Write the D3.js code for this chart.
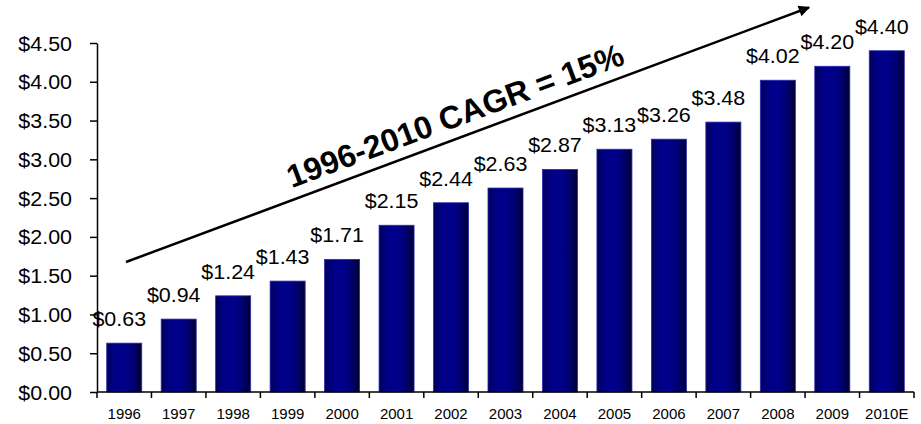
<!DOCTYPE html>
<html><head><meta charset="utf-8">
<script src="https://cdn.jsdelivr.net/npm/d3@7"></script>
<style>html,body{margin:0;padding:0;background:#fff;}svg{display:block;}</style>
</head><body>
<svg id="chart" width="921" height="424"></svg>
<script>
const categories = ["1996","1997","1998","1999","2000","2001","2002","2003","2004","2005","2006","2007","2008","2009","2010E"];
const values = [0.63,0.94,1.24,1.43,1.71,2.15,2.44,2.63,2.87,3.13,3.26,3.48,4.02,4.20,4.40];
const yTicks = [0,0.5,1,1.5,2,2.5,3,3.5,4,4.5];
const annotation = "1996-2010 CAGR = 15%";

const svg = d3.select("#chart");
const font = "'Liberation Sans', Arial, sans-serif";

const x = d3.scaleBand().domain(categories).range([97, 914]).paddingInner(0.357).paddingOuter(0.1785);
const y = d3.scaleLinear().domain([0, 4.5]).range([392, 43]);

const defs = svg.append("defs");
const g = defs.append("linearGradient").attr("id","barGrad").attr("x1","0").attr("x2","1").attr("y1","0").attr("y2","0");
[["0%","#00005a"],["22%","#000085"],["50%","#00008c"],["78%","#000070"],["100%","#00002e"]].forEach(s=>g.append("stop").attr("offset",s[0]).attr("stop-color",s[1]));
const ah = defs.append("marker").attr("id","arrow").attr("viewBox","0 0 10 10").attr("refX",9).attr("refY",5)
  .attr("markerWidth",6.5).attr("markerHeight",4.5).attr("markerUnits","strokeWidth").attr("orient","auto");
ah.append("path").attr("d","M0,0 L10,5 L0,10 z").attr("fill","#000");

// bars
svg.append("g").selectAll("rect").data(values).join("rect")
  .attr("x",(d,i)=>x(categories[i]))
  .attr("y",d=>y(d))
  .attr("width",x.bandwidth())
  .attr("height",d=>y(0)-y(d))
  .attr("fill","url(#barGrad)")
  .attr("stroke","#2b2bb0").attr("stroke-width",0.8);

// y axis
const yAxis = svg.append("g").attr("transform","translate(97,0)")
  .call(d3.axisLeft(y).tickValues(yTicks).tickSize(7).tickSizeOuter(0).tickPadding(0).tickFormat(d=>"$"+d.toFixed(2)));
yAxis.select(".domain").attr("stroke","#000").attr("stroke-width",1.5);
yAxis.selectAll(".tick line").attr("stroke","#000").attr("stroke-width",1.5);
yAxis.selectAll(".tick text")
  .attr("x",null).attr("dy",null)
  .attr("transform","translate(-25,7) scale(1.1,1)")
  .attr("font-family",font).attr("font-size",19.5).attr("fill","#000");

// x axis
const xAxis = svg.append("g").attr("transform","translate(0,392)")
  .call(d3.axisBottom(x).tickSize(0).tickPadding(0));
xAxis.select(".domain").attr("stroke","#000").attr("stroke-width",1.5).attr("d","M97,0H914");
xAxis.selectAll(".tick text").attr("y",27).attr("dy",null)
  .attr("font-family",font).attr("font-size",15).attr("fill","#000");
const bounds = [x(categories[0]) - x.step()*x.paddingOuter()].concat(categories.map(c=>x(c)+x.bandwidth()+x.step()*x.paddingInner()/2));
bounds[bounds.length-1] = 914;
xAxis.selectAll(".bound").data(bounds).join("line").attr("class","bound")
  .attr("x1",d=>d).attr("x2",d=>d).attr("y1",0).attr("y2",6).attr("stroke","#000").attr("stroke-width",1.5);

// value labels
svg.append("g").selectAll("text").data(values).join("text")
  .attr("transform",(d,i)=>`translate(${x(categories[i])+x.bandwidth()/2-5},${y(d)-17}) scale(1.1,1)`)
  .attr("text-anchor","middle")
  .attr("font-family",font).attr("font-size",19.5).attr("fill","#000")
  .text(d=>"$"+d.toFixed(2));

// CAGR arrow and text
svg.append("line").attr("x1",126).attr("y1",262).attr("x2",809).attr("y2",7.5)
  .attr("stroke","#000").attr("stroke-width",2.5).attr("marker-end","url(#arrow)");
svg.append("text")
  .attr("transform","translate(459,126) rotate(-20.4)")
  .attr("text-anchor","middle")
  .attr("font-family",font).attr("font-size",32).attr("font-weight","bold").attr("fill","#000")
  .text(annotation);
</script>
</body></html>
